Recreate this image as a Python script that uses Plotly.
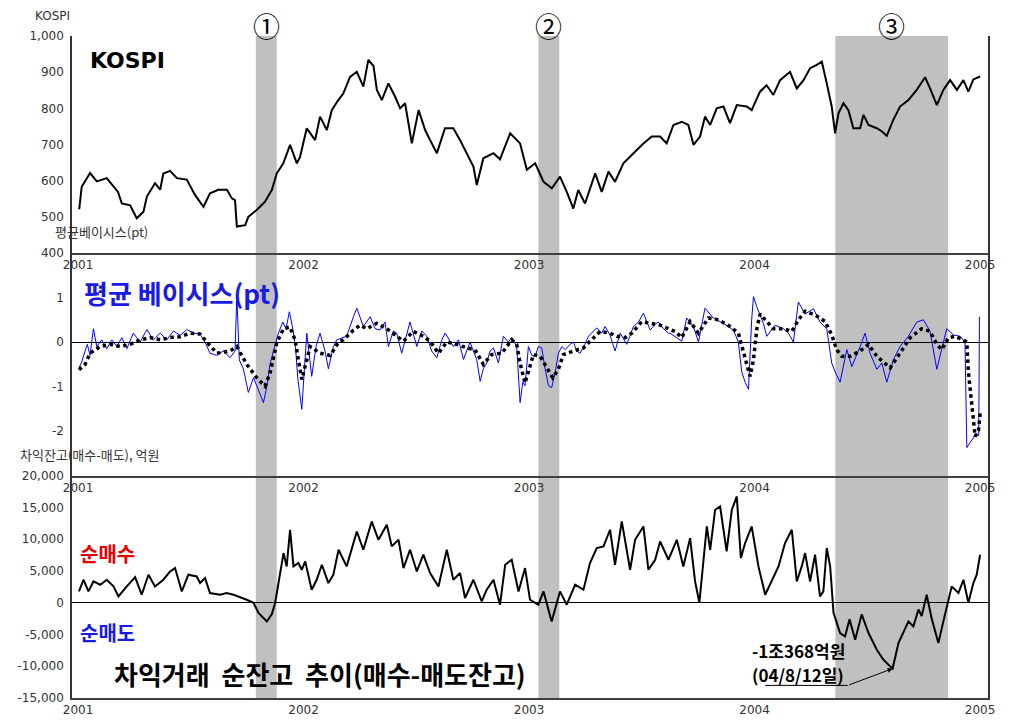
import plotly.graph_objects as go

# ---------------- data (time in decimal years) ----------------
kospi_t = [
    2001.005, 2001.016, 2001.053, 2001.083, 2001.127, 2001.177, 2001.194, 2001.231, 2001.260, 2001.290,
    2001.305, 2001.341, 2001.364, 2001.378, 2001.408, 2001.438, 2001.482, 2001.519, 2001.556, 2001.585,
    2001.622, 2001.660, 2001.682, 2001.696, 2001.704, 2001.741, 2001.755, 2001.792, 2001.829, 2001.859,
    2001.881, 2001.910, 2001.940, 2001.970, 2001.984, 2002.014, 2002.051, 2002.073, 2002.103, 2002.125,
    2002.154, 2002.176, 2002.206, 2002.236, 2002.265, 2002.287, 2002.310, 2002.325, 2002.347, 2002.376,
    2002.406, 2002.428, 2002.450, 2002.480, 2002.510, 2002.539, 2002.561, 2002.591, 2002.627, 2002.664,
    2002.694, 2002.724, 2002.753, 2002.768, 2002.797, 2002.842, 2002.871, 2002.916, 2002.960, 2002.990,
    2003.027, 2003.064, 2003.101, 2003.137, 2003.167, 2003.196, 2003.218, 2003.248, 2003.293, 2003.322,
    2003.352, 2003.381, 2003.418, 2003.463, 2003.507, 2003.544, 2003.581, 2003.610, 2003.640, 2003.677,
    2003.706, 2003.729, 2003.758, 2003.780, 2003.803, 2003.832, 2003.862, 2003.891, 2003.921, 2003.965,
    2003.987, 2004.024, 2004.053, 2004.083, 2004.113, 2004.157, 2004.187, 2004.217, 2004.246, 2004.276,
    2004.298, 2004.320, 2004.342, 2004.357, 2004.372, 2004.394, 2004.416, 2004.438, 2004.468, 2004.483,
    2004.505, 2004.542, 2004.565, 2004.586, 2004.615, 2004.645, 2004.682, 2004.719, 2004.756, 2004.778,
    2004.808, 2004.837, 2004.867, 2004.897, 2004.926, 2004.948, 2004.970, 2005.000,
]
kospi_v = [
    521, 583, 621, 598, 607, 569, 537, 532, 496, 514,
    556, 593, 575, 620, 627, 607, 603, 560, 528, 565,
    575, 575, 551, 546, 473, 477, 500, 519, 542, 574,
    620, 648, 699, 648, 665, 745, 712, 777, 740, 795,
    823, 841, 887, 901, 860, 934, 917, 851, 823, 869,
    832, 800, 814, 703, 795, 740, 712, 676, 745, 745,
    712, 676, 639, 588, 662, 676, 659, 731, 703, 630,
    648, 597, 579, 611, 569, 523, 574, 537, 620, 569,
    625, 597, 648, 676, 703, 722, 722, 703, 754, 763,
    754, 699, 722, 777, 754, 800, 805, 759, 809, 805,
    795, 846, 864, 837, 878, 901, 855, 878, 911, 920,
    929, 869, 805, 731, 786, 814, 795, 745, 745, 782,
    754, 745, 736, 724, 768, 805, 823, 851, 886, 855,
    809, 851, 878, 851, 878, 846, 880, 888,
]

basis_t = [
    2001.004, 2001.016, 2001.031, 2001.041, 2001.053, 2001.068, 2001.083, 2001.105, 2001.127, 2001.149,
    2001.172, 2001.194, 2001.216, 2001.245, 2001.275, 2001.305, 2001.334, 2001.364, 2001.393, 2001.423,
    2001.452, 2001.482, 2001.511, 2001.541, 2001.563, 2001.585, 2001.615, 2001.644, 2001.674, 2001.696,
    2001.704, 2001.715, 2001.733, 2001.755, 2001.778, 2001.800, 2001.822, 2001.837, 2001.851, 2001.869,
    2001.888, 2001.908, 2001.922, 2001.937, 2001.952, 2001.964, 2001.974, 2001.992, 2002.002, 2002.014,
    2002.036, 2002.055, 2002.073, 2002.095, 2002.110, 2002.132, 2002.147,
    2002.191, 2002.221, 2002.236, 2002.265, 2002.295, 2002.317, 2002.339, 2002.361, 2002.376, 2002.398,
    2002.413, 2002.435, 2002.454, 2002.472, 2002.502, 2002.524, 2002.546, 2002.568, 2002.591, 2002.613,
    2002.628, 2002.650, 2002.664, 2002.687, 2002.709, 2002.738, 2002.768, 2002.783, 2002.797, 2002.812,
    2002.827, 2002.842, 2002.864, 2002.886, 2002.908, 2002.923, 2002.945, 2002.960, 2002.972, 2002.982,
    2002.997, 2003.012, 2003.027, 2003.041, 2003.056, 2003.071, 2003.086, 2003.100, 2003.115, 2003.130,
    2003.145, 2003.160, 2003.182, 2003.197, 2003.211, 2003.226, 2003.248, 2003.263, 2003.285, 2003.300,
    2003.322, 2003.337, 2003.359, 2003.381, 2003.404, 2003.433, 2003.463, 2003.485, 2003.507, 2003.537,
    2003.559, 2003.574, 2003.596, 2003.618,
    2003.625, 2003.655, 2003.677, 2003.699, 2003.729, 2003.751, 2003.780, 2003.817, 2003.862, 2003.906,
    2003.928, 2003.943, 2003.958, 2003.973, 2003.987, 2003.995, 2004.010, 2004.039, 2004.054, 2004.091,
    2004.128, 2004.150, 2004.172, 2004.194, 2004.224, 2004.261, 2004.290, 2004.320, 2004.342, 2004.357,
    2004.379, 2004.409, 2004.431, 2004.468, 2004.490, 2004.512, 2004.542, 2004.564, 2004.586, 2004.616,
    2004.645, 2004.682, 2004.719, 2004.749, 2004.778, 2004.808, 2004.830, 2004.852, 2004.882, 2004.911,
    2004.933, 2004.941, 2004.963, 2004.985, 2004.994, 2004.997,
]
basis_v = [
    -0.58, -0.45, -0.2, -0.05, -0.3, 0.3, -0.1, 0.05, -0.15, 0.05,
    -0.1, 0.1, -0.15, 0.2, 0.0, 0.28, 0.05, 0.2, 0.05, 0.25,
    0.15, 0.28, 0.2, 0.18, 0.0, -0.25, -0.3, -0.2, -0.35, -0.2,
    1.05, -0.4, -0.6, -1.13, -0.8, -1.1, -1.36, -1.0, -0.5, -0.15,
    0.2, 0.45, 0.3, 0.68, 0.3, -0.1, -0.8, -1.51, -0.6, 0.2,
    -0.77, -0.1, 0.2, -0.2, -0.6, -0.1, 0.05,
    0.13, 0.57, 0.76, 0.35, 0.57, 0.3, 0.27, 0.45, -0.1, 0.25,
    0.2, -0.25, 0.1, 0.45, -0.1, 0.25, 0.13, -0.2, -0.35, 0.05,
    0.2, 0.0, -0.1, 0.05, -0.39, 0.0, -0.4, -0.88, -0.6, -0.47,
    -0.2, -0.13, -0.47, 0.13, 0.0, 0.1, -0.1, -1.36, -0.9, -0.98,
    -0.1, -0.3, -0.32, -0.1, -0.13, -0.6, -0.98, -1.02, -0.7, -0.25,
    -0.1, -0.17, -0.05, 0.0, -0.2, -0.25, -0.05, 0.13, 0.25, 0.32,
    0.2, 0.35, 0.15, -0.2, 0.2, -0.05, 0.35, 0.45, 0.65, 0.27,
    0.4, 0.45, 0.3, 0.2,
    0.2, 0.1, 0.02, 0.54, 0.35, 0.0, 0.76, 0.54, 0.42, 0.27,
    0.0, -0.67, -0.9, -1.06, 0.5, 1.02, 0.79, 0.42, 0.13, 0.38,
    0.3, 0.2, 0.0, 0.9, 0.63, 0.75, 0.45, 0.3, -0.47, -0.67,
    -0.9, -0.17, -0.55, -0.1, 0.2, -0.25, -0.61, -0.47, -0.9, -0.39,
    -0.1, 0.13, 0.45, 0.5, 0.24, -0.61, -0.17, 0.3, 0.16, 0.13,
    0.0, -2.37, -2.2, -2.05, -2.1, 0.57,
]

basis_ma_t = [
    2001.004, 2001.031, 2001.053, 2001.098, 2001.142, 2001.186, 2001.231, 2001.275, 2001.319, 2001.364,
    2001.408, 2001.452, 2001.497, 2001.541, 2001.571, 2001.615, 2001.674, 2001.704, 2001.748, 2001.792,
    2001.829, 2001.851, 2001.881, 2001.911, 2001.940, 2001.962, 2001.992, 2002.029, 2002.073, 2002.118,
    2002.155,
    2002.177, 2002.221, 2002.251, 2002.280, 2002.324, 2002.369, 2002.413, 2002.443, 2002.487, 2002.531,
    2002.561, 2002.598, 2002.635, 2002.679, 2002.724, 2002.760, 2002.797, 2002.834, 2002.879, 2002.923,
    2002.945, 2002.960, 2002.982, 2003.004, 2003.019, 2003.049, 2003.078, 2003.105, 2003.130, 2003.152,
    2003.197, 2003.241, 2003.271, 2003.315, 2003.359, 2003.389, 2003.426, 2003.455, 2003.500, 2003.537,
    2003.581, 2003.618,
    2003.647, 2003.677, 2003.714, 2003.751, 2003.795, 2003.840, 2003.891, 2003.928, 2003.958, 2003.980,
    2003.995, 2004.010, 2004.024, 2004.054, 2004.083, 2004.128, 2004.165, 2004.194, 2004.224, 2004.268,
    2004.313, 2004.342, 2004.364, 2004.387, 2004.423, 2004.468, 2004.505, 2004.542, 2004.601, 2004.645,
    2004.690, 2004.741, 2004.778, 2004.808, 2004.830, 2004.860, 2004.889, 2004.926, 2004.941, 2004.948,
    2004.963, 2004.978, 2004.993, 2005.000,
]
basis_ma_v = [
    -0.62, -0.5, -0.25, -0.1, -0.05, -0.1, -0.05, 0.05, 0.1, 0.05,
    0.1, 0.12, 0.2, 0.18, 0.0, -0.25, -0.2, -0.1, -0.5, -0.8,
    -0.99, -0.7, -0.02, 0.3, 0.34, 0.05, -0.84, -0.1, -0.25, -0.3,
    0.0,
    0.05, 0.27, 0.38, 0.3, 0.42, 0.3, 0.13, 0.02, 0.24, 0.13,
    0.02, -0.25, 0.0, -0.05, -0.13, -0.17, -0.5, -0.28, -0.25, 0.05,
    -0.05, -0.47, -0.92, -0.5, -0.28, -0.32, -0.58, -0.8, -0.61, -0.28,
    -0.2, -0.13, 0.02, 0.24, 0.2, 0.13, 0.1, 0.2, 0.46, 0.42,
    0.38, 0.3,
    0.24, 0.1, 0.46, 0.2, 0.54, 0.5, 0.35, 0.2, -0.39, -0.77,
    -0.39, 0.3, 0.63, 0.46, 0.3, 0.3, 0.24, 0.5, 0.69, 0.61,
    0.46, 0.16, -0.17, -0.32, -0.32, -0.2, -0.05, -0.32, -0.58, -0.25,
    0.1, 0.3, 0.24, -0.05, -0.17, 0.1, 0.13, 0.05, 0.0, -0.67,
    -1.41, -2.12, -1.98, -1.6,
]

arb_t = [
    2001.004, 2001.024, 2001.046, 2001.068, 2001.098, 2001.127, 2001.157, 2001.179, 2001.216, 2001.253,
    2001.282, 2001.312, 2001.341, 2001.378, 2001.408, 2001.430, 2001.460, 2001.489, 2001.526, 2001.541,
    2001.563, 2001.585, 2001.630, 2001.659, 2001.689, 2001.711, 2001.748, 2001.778, 2001.800, 2001.837,
    2001.859, 2001.874, 2001.896, 2001.911, 2001.925, 2001.940, 2001.955, 2001.977, 2001.992, 2002.007,
    2002.036, 2002.058, 2002.081, 2002.110, 2002.132, 2002.155, 2002.191, 2002.236, 2002.265, 2002.302,
    2002.332, 2002.369, 2002.391, 2002.421, 2002.443, 2002.472, 2002.502, 2002.531, 2002.561, 2002.598,
    2002.635, 2002.664, 2002.694, 2002.716, 2002.753, 2002.790, 2002.812, 2002.842, 2002.871, 2002.894,
    2002.923, 2002.953, 2002.982, 2003.004, 2003.041, 2003.064, 2003.100, 2003.137, 2003.167, 2003.204,
    2003.241, 2003.270, 2003.300, 2003.330, 2003.359, 2003.381, 2003.411, 2003.448, 2003.470, 2003.507,
    2003.529, 2003.559, 2003.581, 2003.618, 2003.655, 2003.684, 2003.714, 2003.736, 2003.755, 2003.788,
    2003.803, 2003.825, 2003.847, 2003.876, 2003.899, 2003.921, 2003.939, 2003.958, 2003.987, 2004.017,
    2004.047, 2004.076, 2004.106, 2004.135, 2004.165, 2004.187, 2004.209, 2004.224, 2004.246, 2004.268,
    2004.290, 2004.305, 2004.320, 2004.335, 2004.350, 2004.379, 2004.401, 2004.421, 2004.446, 2004.475,
    2004.505, 2004.542, 2004.571, 2004.601, 2004.612, 2004.638, 2004.682, 2004.704, 2004.727, 2004.741,
    2004.763, 2004.786, 2004.815, 2004.837, 2004.860, 2004.874, 2004.904, 2004.926, 2004.948, 2004.970,
    2004.985, 2005.000,
]
arb_v = [
    1780, 3620, 1780, 3350, 2830, 3620, 2570, 1000, 2570, 4040,
    1260, 4410, 2570, 3620, 4930, 5460, 1780, 4410, 4140, 3100,
    3880, 1520, 1260, 1520, 1260, 1000, 470, 0, -1620, -2940,
    -1830, 0, 4670, 7820, 5720, 11490, 5720, 6250, 5190, 6510,
    2050, 3620, 5980, 3100, 4410, 8340, 5720, 11220, 8340, 12800,
    9910, 12270, 8870, 9910, 5460, 8340, 4930, 7560, 4670, 2570,
    8340, 3620, 4670, 740, 3620, 210, 2050, 3620, -310, 5980,
    6770, 1780, 5460, 470, -310, 1780, -2940, 1780, -310, 2830,
    2050, 6250, 8610, 8870, 11490, 5980, 12800, 5190, 9910, 12010,
    5190, 6770, 9650, 6770, 9910, 5720, 10170, 3350, 0, 12010,
    8340, 14640, 15160, 8080, 14640, 16730, 7030, 9390, 12010, 5720,
    1260, 3350, 5720, 9390, 11490, 3350, 5720, 7820, 3350, 7560,
    1000, 1780, 8610, 5720, -1570, -4770, -5300, -2620, -5820, -1830,
    -4770, -7400, -8970, -10020, -10368, -6340, -2940, -3730, -1050, -2100,
    1260, -2620, -6340, -2940, 470, 2570, 1520, 3620, 0, 3100,
    4410, 7560,
]

# shaded periods (start, end) and labels
shade_start = [2001.788, 2003.041, 2004.358]
shade_end = [2001.881, 2003.134, 2004.858]
shade_labels = ["①", "②", "③"]

year_ticks = [2001, 2002, 2003, 2004, 2005]
year_labels = ["2001", "2002", "2003", "2004", "2005"]
kospi_ticks = [400, 500, 600, 700, 800, 900, 1000]
kospi_labels = ["400", "500", "600", "700", "800", "900", "1,000"]
basis_ticks = [-2, -1, 0, 1]
basis_labels = ["-2", "-1", "0", "1"]
arb_ticks = [-15000, -10000, -5000, 0, 5000, 10000, 15000, 20000]
arb_labels = ["-15,000", "-10,000", "-5,000", "0", "5,000", "10,000", "15,000", "20,000"]

# minimum annotation
min_t, min_v = 2004.612, -10368

# ---------------- figure ----------------
KR = "Noto Sans CJK KR"
TICKFONT = dict(family="DejaVu Sans", size=12, color="#333333")

fig = go.Figure()
fig.add_trace(go.Scatter(x=kospi_t, y=kospi_v, mode="lines",
                         line=dict(color="black", width=2), xaxis="x", yaxis="y"))
fig.add_trace(go.Scatter(x=basis_t, y=basis_v, mode="lines",
                         line=dict(color="#0000ff", width=1), xaxis="x2", yaxis="y2"))
fig.add_trace(go.Scatter(x=basis_ma_t, y=basis_ma_v, mode="lines",
                         line=dict(color="black", width=3.5, dash="dot"), xaxis="x2", yaxis="y2"))
fig.add_trace(go.Scatter(x=arb_t, y=arb_v, mode="lines",
                         line=dict(color="black", width=2), xaxis="x3", yaxis="y3"))

xcommon = dict(range=[2000.973, 2005.035], tickmode="array", tickvals=year_ticks,
               ticktext=year_labels, showline=True, linecolor="#404040", linewidth=1.5,
               showgrid=False, zeroline=False, ticks="", tickfont=TICKFONT, automargin=False)
ycommon = dict(showline=True, mirror=True, linecolor="#333333", linewidth=1.5,
               showgrid=False, ticks="", tickfont=TICKFONT, automargin=False,
               ticklabelstandoff=4)

fig.update_layout(
    width=1023, height=723, template="none",
    paper_bgcolor="white", plot_bgcolor="white",
    margin=dict(l=72, r=35, t=36, b=25),
    showlegend=False,
    xaxis=dict(**xcommon, anchor="y"),
    xaxis2=dict(**xcommon, anchor="y2", matches="x"),
    xaxis3=dict(**xcommon, anchor="y3", matches="x"),
    yaxis=dict(**ycommon, anchor="x", domain=[0.6722, 1.0], range=[400, 1000],
               tickmode="array", tickvals=kospi_ticks, ticktext=kospi_labels, zeroline=False),
    yaxis2=dict(**ycommon, anchor="x2", domain=[0.3358, 0.6722], range=[-3, 2],
                tickmode="array", tickvals=basis_ticks, ticktext=basis_labels,
                zeroline=True, zerolinecolor="black", zerolinewidth=1),
    yaxis3=dict(**ycommon, anchor="x3", domain=[0.0, 0.3358], range=[-15000, 20000],
                tickmode="array", tickvals=arb_ticks, ticktext=arb_labels,
                zeroline=True, zerolinecolor="black", zerolinewidth=1),
)

shapes = []
for s, e in zip(shade_start, shade_end):
    shapes.append(dict(type="rect", xref="x", yref="paper", x0=s, x1=e, y0=0, y1=1,
                       fillcolor="#c0c0c0", line=dict(width=0), layer="below"))
# underline for the minimum callout
shapes.append(dict(type="line", xref="x3", yref="y3", x0=2004.047, x1=2004.413,
                   y0=-13017, y1=-13017, line=dict(color="black", width=1)))
fig.update_layout(shapes=shapes)

ann = []
for s, e, lab in zip(shade_start, shade_end, shade_labels):
    ann.append(dict(x=(s + e) / 2, y=1.0166, xref="x", yref="paper", text=lab,
                    showarrow=False, font=dict(family=KR, size=27, color="black"),
                    xanchor="center", yanchor="middle"))

def ptxt(x, y, text, size, color="black", bold=False, family=KR):
    t = f"<b>{text}</b>" if bold else text
    return dict(x=x, y=y, xref="paper", yref="paper", text=t, showarrow=False,
                font=dict(family=family, size=size, color=color),
                xanchor="left", yanchor="middle")

ann += [
    ptxt(-0.043, 1.0302, "KOSPI", 12, "#333333", family="DejaVu Sans"),
    ptxt(0.0175, 0.9637, "KOSPI", 22, "black", bold=True, family="DejaVu Sans"),
    ptxt(-0.0207, 0.7054, "평균베이시스(pt)", 13, "#333333"),
    ptxt(0.0109, 0.6118, "평균 베이시스(pt)", 26, "#1a1ae6", bold=True),
    ptxt(-0.059, 0.3671, "차익잔고(매수-매도), 억원", 13, "#333333"),
    ptxt(0.0065, 0.219, "순매수", 20, "#e60000", bold=True),
    ptxt(0.0065, 0.0982, "순매도", 20, "#1a1ae6", bold=True),
    ptxt(0.0437, 0.0363, "차익거래  순잔고  추이(매수-매도잔고)", 26, "black", bold=True),
]
ann.append(dict(x=2003.98, y=-7508, xref="x3", yref="y3", text="<b>-1조368억원</b>",
                showarrow=False, xanchor="left", yanchor="middle",
                font=dict(family=KR, size=17, color="black")))
ann.append(dict(x=2003.98, y=-11333, xref="x3", yref="y3", text="<b>(04/8/12일)</b>",
                showarrow=False, xanchor="left", yanchor="middle",
                font=dict(family=KR, size=17, color="black")))
ann.append(dict(x=min_t, y=min_v, xref="x3", yref="y3", text="", showarrow=True,
                axref="x3", ayref="y3", ax=2004.413, ay=-13017,
                arrowhead=2, arrowsize=1, arrowwidth=1, arrowcolor="black"))
fig.update_layout(annotations=ann)

fig.write_html("out.html")
